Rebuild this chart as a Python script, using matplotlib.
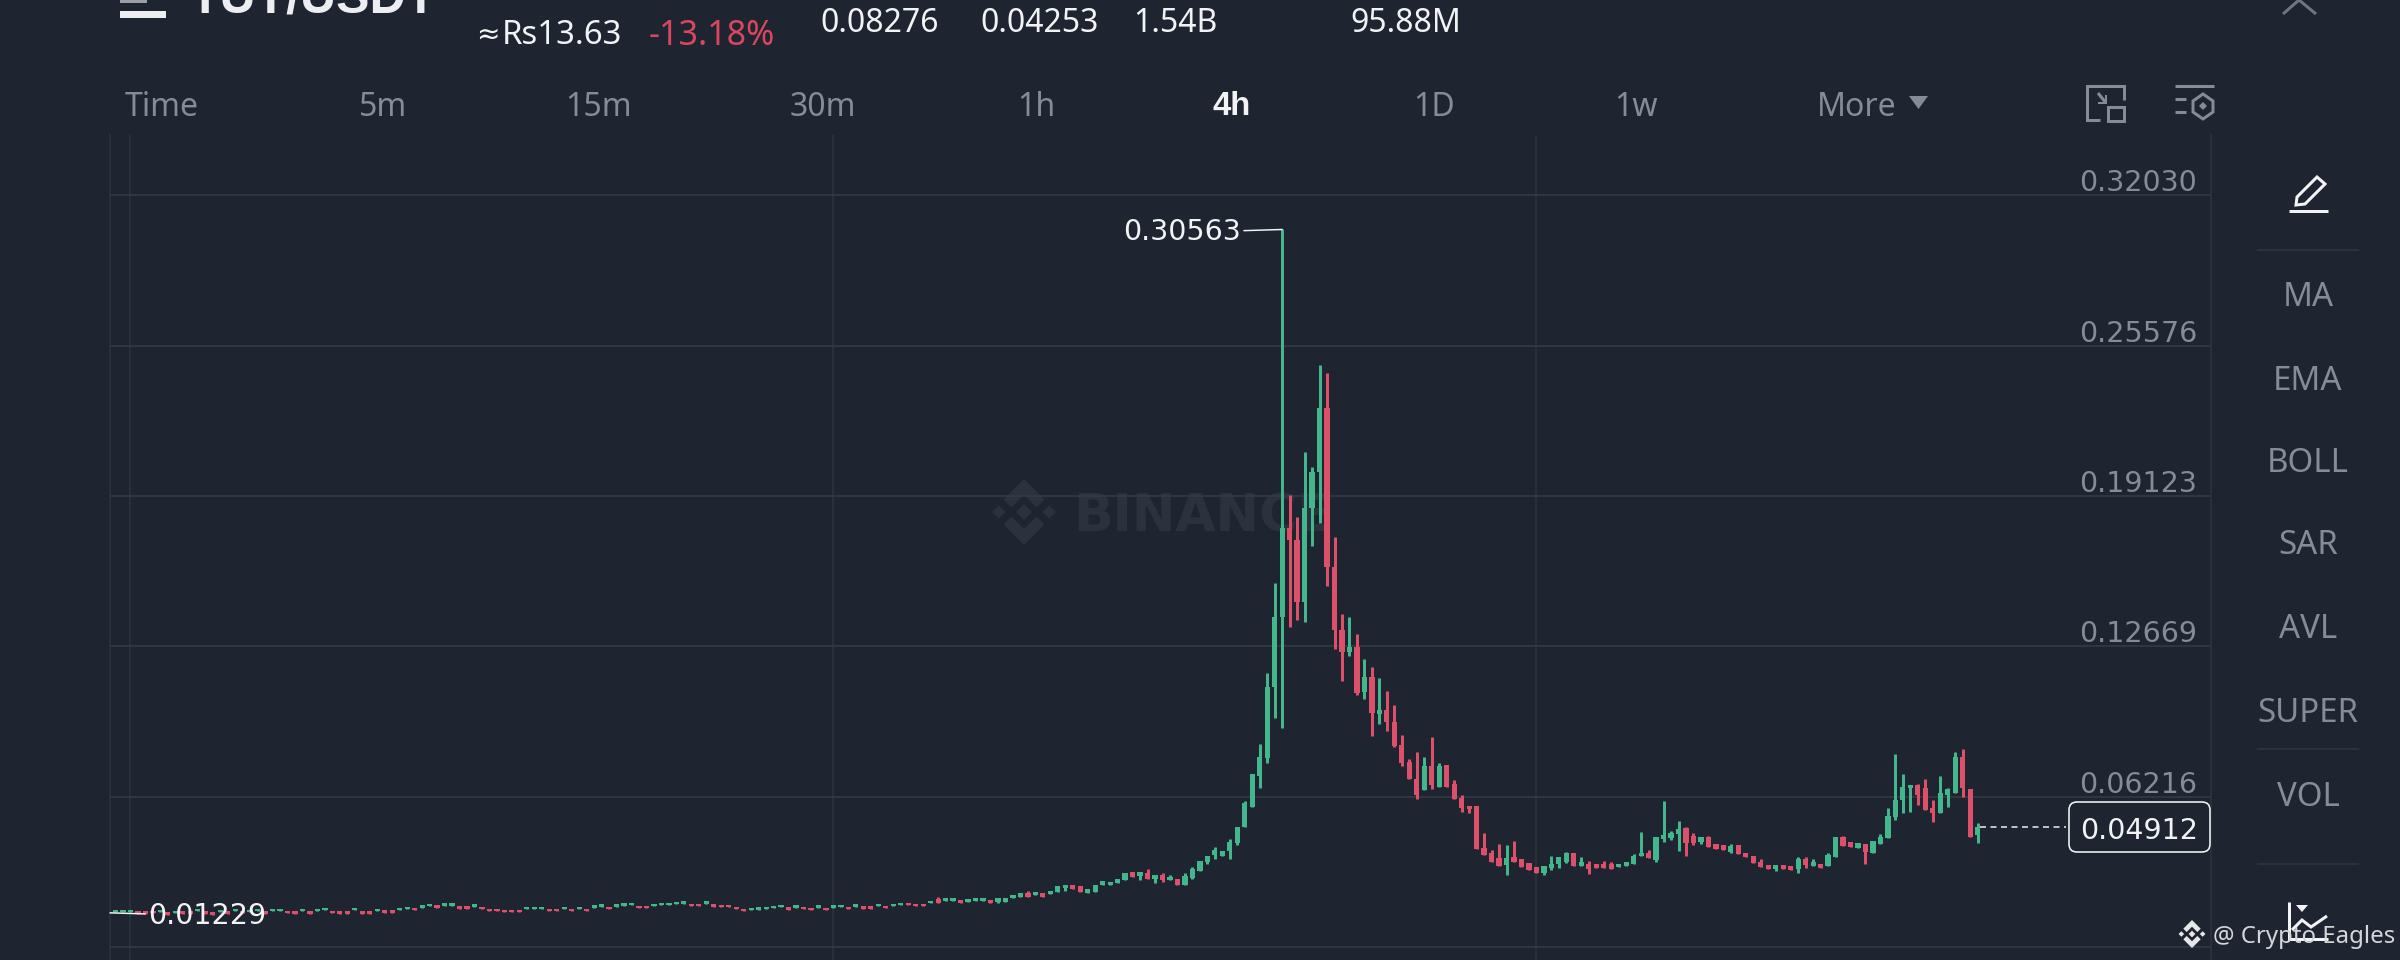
import matplotlib
matplotlib.use("Agg")
import matplotlib.pyplot as plt
from matplotlib.patches import FancyBboxPatch, Polygon, Rectangle

plt.rcParams["font.family"] = ["Noto Sans", "DejaVu Sans"]

# candle data, 4h bars
opens = [
    .01257, .01271, .01271, .01300, .01286, .01314, .01257, .01257, .01214, .01300,
    .01286, .01300, .01286, .01257, .01271, .01286, .01300, .01314, .01257, .01300,
    .01300, .01314, .01314, .01314, .01300, .01286, .01300, .01314, .01329, .01314,
    .01300, .01300, .01329, .01300, .01300, .01314, .01343, .01329, .01343, .01386,
    .01443, .01457, .01515, .01557, .01543, .01543, .01514, .01514, .01500, .01486,
    .01400, .01400, .01371, .01371, .01357, .01372, .01386, .01400, .01414, .01400,
    .01400, .01400, .01386, .01414, .01457, .01500, .01486, .01500, .01543, .01557,
    .01543, .01529, .01529, .01572, .01572, .01615, .01616, .01601, .01601, .01616,
    .01587, .01558, .01558, .01487, .01401, .01344, .01358, .01387, .01430, .01458,
    .01458, .01444, .01472, .01430, .01444, .01444, .01444, .01458, .01472, .01487,
    .01501, .01501, .01501, .01530, .01501, .01558, .01644, .01601, .01616, .01630,
    .01809, .01737, .01751, .01766, .01709, .01737, .01751, .01766, .01694, .01694,
    .01852, .01923, .02066, .01980, .02066, .02052, .02123, .02309, .02409, .02366,
    .02095, .02123, .02409, .02409, .02495, .02624, .02967, .02824, .02924, .02700,
    .02843, .02657, .02686, .02429, .02715, .03044, .03429, .03716, .03658, .03902,
    .04216, .04902, .05760, .07105, .07863, .10908, .13928, .17748, .17233, .14572,
    .18607, .20152, .22900, .16074, .13368, .12439, .12653, .10723, .11337, .09750,
    .09936, .09435, .08435, .07720, .06962, .06504, .07534, .06647, .07562, .06761,
    .06147, .05832, .05832, .04002, .03787, .03572, .03287, .03615, .03530, .03358,
    .03215, .02958, .03142, .03328, .03428, .03815, .03257, .03328, .03314, .03328,
    .03314, .03185, .03228, .03328, .03672, .03786, .03500, .04387, .04429, .04615,
    .04858, .04530, .04287, .04501, .04172, .04129, .03857, .04129, .03815, .03672,
    .03428, .03285, .03114, .03271, .03243, .03100, .03529, .03257, .03328, .03243,
    .03643, .04473, .04272, .04001, .04186, .03815, .04186, .04429, .05359, .06074,
    .06574, .06703, .06574, .05716, .05531, .06288, .06389, .07904, .06532, .04573,
]
closes = [
    .01357, .01371, .01371, .01200, .01186, .01214, .01357, .01157, .01314, .01200,
    .01186, .01400, .01186, .01157, .01371, .01186, .01400, .01214, .01357, .01400,
    .01200, .01414, .01414, .01214, .01200, .01386, .01200, .01414, .01429, .01214,
    .01200, .01200, .01429, .01200, .01200, .01414, .01243, .01229, .01443, .01486,
    .01343, .01557, .01615, .01457, .01643, .01643, .01414, .01414, .01600, .01386,
    .01300, .01300, .01271, .01271, .01257, .01472, .01486, .01500, .01314, .01300,
    .01500, .01300, .01486, .01314, .01557, .01600, .01386, .01600, .01643, .01657,
    .01443, .01429, .01629, .01672, .01672, .01715, .01716, .01501, .01501, .01716,
    .01487, .01458, .01458, .01387, .01301, .01444, .01458, .01487, .01530, .01558,
    .01358, .01544, .01372, .01330, .01544, .01344, .01544, .01558, .01372, .01587,
    .01401, .01401, .01601, .01430, .01601, .01658, .01544, .01501, .01516, .01730,
    .01666, .01852, .01866, .01637, .01823, .01852, .01866, .01637, .01866, .01866,
    .01995, .02066, .01894, .02123, .01923, .02166, .02366, .02438, .02266, .02123,
    .02266, .02424, .02581, .02552, .02667, .02953, .02752, .02967, .02681, .02843,
    .02643, .02786, .02429, .02815, .03115, .03473, .03658, .03930, .03902, .04288,
    .04931, .05932, .07190, .07905, .10908, .13940, .17748, .17233, .14572, .18607,
    .20152, .22900, .16074, .13370, .12439, .12653, .10651, .11337, .09793, .09936,
    .09435, .08392, .07648, .06962, .06290, .07534, .06718, .07534, .06647, .06104,
    .05746, .05675, .03959, .03716, .03429, .03244, .03572, .03401, .03215, .03072,
    .02958, .03244, .03328, .03614, .03815, .03243, .03428, .03100, .03157, .03142,
    .03114, .03328, .03428, .03672, .03786, .03572, .04501, .04573, .04673, .04816,
    .04215, .04244, .04473, .04043, .03986, .03929, .04115, .03757, .03614, .03386,
    .03214, .03100, .03285, .03114, .03057, .03529, .03285, .03414, .03142, .03715,
    .04473, .04101, .04043, .04244, .03857, .04329, .04501, .05388, .06074, .06617,
    .06718, .06288, .05645, .05502, .06360, .06532, .07933, .06574, .04501, .04912,
]
# wicks, only the candles where one is visible
upper_wicks = {
    110: .01894, 122: .02152, 138: .03124, 140: .02929, 141: .02858, 143: .02929, 144: .03186,
    147: .04073, 149: .04416, 151: .06032, 153: .08463, 154: .11509, 155: .15370, 156: .30563,
    157: .19165, 158: .18221, 159: .21011, 160: .20367, 161: .24746, 162: .24402, 163: .17362,
    164: .14040, 165: .13940, 166: .13182, 167: .12110, 168: .11795, 169: .11294, 170: .10751,
    171: .10150, 172: .08863, 173: .07834, 174: .08120, 175: .07934, 176: .08792, 177: .07677,
    179: .06933, 180: .06290, 183: .04674, 184: .03930, 185: .04173, 186: .04145, 187: .04317,
    192: .03672, 194: .03857, 196: .03614, 197: .03471, 199: .03471, 200: .03400, 203: .03757,
    204: .04687, 205: .03929, 207: .06045, 208: .04759, 209: .05173, 210: .04930, 211: .04644,
    213: .04530, 216: .04186, 220: .03529, 225: .03614, 226: .03643, 227: .03529, 229: .03815,
    231: .04530, 236: .04615, 237: .05745, 238: .08047, 239: .07175, 241: .06760, 242: .06989,
    243: .06074, 244: .07118, 245: .06603, 246: .08119, 247: .08262, 249: .05073,
}
lower_wicks = {
    118: .01666, 127: .02166, 137: .02652, 139: .02500, 140: .02557, 144: .02672, 146: .03330,
    147: .03544, 149: .03558, 150: .04145, 153: .06575, 154: .07648, 155: .09607, 156: .09163,
    157: .13499, 158: .13799, 159: .13713, 160: .16976, 161: .17963, 162: .15259, 163: .12554,
    164: .11180, 165: .12253, 166: .10580, 167: .10394, 168: .08835, 169: .09335, 170: .09035,
    171: .08363, 172: .07534, 174: .06118, 176: .06533, 180: .05546, 181: .05503, 186: .02858,
    191: .02872, 192: .03071, 193: .03142, 194: .03357, 197: .02885, 206: .03428, 207: .04287,
    208: .04358, 209: .03900, 210: .03686, 211: .04143, 212: .04186, 216: .03786, 222: .03014,
    225: .02957, 226: .03171, 234: .03328, 238: .05216, 239: .05502, 240: .05573, 241: .05859,
    243: .05116, 245: .05759, 247: .06188, 249: .04244,
}
price_ticks = [0.32030, 0.25576, 0.19123, 0.12669, 0.06216, -0.00238]
price_labels = ["0.32030", "0.25576", "0.19123", "0.12669", "0.06216"]
time_ticks = [2, 96, 190]
max_price, min_price, last_price = 0.30563, 0.01229, 0.04912
max_idx, min_idx = 156, 0

intervals = ["Time", "5m", "15m", "30m", "1h", "4h", "1D", "1w", "More"]
interval_x = [162, 383, 598, 823, 1036, 1232, 1434, 1636, 1857]
indicators = ["MA", "EMA", "BOLL", "SAR", "AVL", "SUPER", "VOL"]
indicator_y = [294, 377, 459, 542, 626, 709, 793]

BG = "#1f2530"
GREEN = "#44b68c"
RED = "#dc5069"
GRAY = "#858c97"
GRID = "#343b45"
WHITE = "#f2f3f5"
NUM_PX = 28.5

W, H = 2400, 960
fig = plt.figure(figsize=(24, 9.6), dpi=100, facecolor=BG)

# chart area: 110..2211 px wide, 135..960 px tall
ax = fig.add_axes([110 / W, 0, (2211 - 110) / W, (960 - 135) / H], facecolor="none", zorder=2)
under = fig.add_axes([0, 0, 1, 1], zorder=1, facecolor=BG)
ui = fig.add_axes([0, 0, 1, 1], zorder=3, facecolor="none")
for a in (under, ui):
    a.set_xlim(0, W)
    a.set_ylim(H, 0)
    a.axis("off")


def label(x, y, s, px, color=GRAY, ha="center", weight="normal", family=None):
    ui.text(x, y, s, fontsize=px * 0.72, color=color, ha=ha, va="center_baseline",
            fontweight=weight, family=family or ["Noto Sans", "DejaVu Sans"])


def line(pts, color=GRAY, lw=3, target=None):
    xs, ys = zip(*pts)
    (target or ui).plot(xs, ys, color=color, lw=lw * 0.72, solid_capstyle="butt", solid_joinstyle="miter")


def binance_logo(target, cx, cy, r, color):
    # centre and side diamonds plus top and bottom chevrons
    for dx, dy, s in [(0, 0, 0.24), (-0.76, 0, 0.2), (0.76, 0, 0.2)]:
        x0, y0, h = cx + dx * r, cy + dy * r, s * r
        target.add_patch(Polygon([(x0 - h, y0), (x0, y0 - h), (x0 + h, y0), (x0, y0 + h)], fc=color, ec="none"))
    for sgn in (-1, 1):
        target.add_patch(Polygon([
            (cx, cy + sgn * r), (cx + 0.62 * r, cy + sgn * 0.38 * r), (cx + 0.38 * r, cy + sgn * 0.14 * r),
            (cx, cy + sgn * 0.52 * r), (cx - 0.38 * r, cy + sgn * 0.14 * r), (cx - 0.62 * r, cy + sgn * 0.38 * r),
        ], fc=color, ec="none"))


# watermark sits under the candles
binance_logo(under, 1024, 512, 33, "#2b323d")
under.text(1073, 532, "BINANCE", fontsize=52 * 0.72, color="#2b323d", fontweight="bold", va="baseline", ha="left",
           family=["DejaVu Sans"])

xs = list(range(len(opens)))
highs = [upper_wicks.get(i, max(opens[i], closes[i])) for i in xs]
lows = [lower_wicks.get(i, min(opens[i], closes[i])) for i in xs]
colors = [GREEN if closes[i] >= opens[i] else RED for i in xs]
ax.vlines(xs, lows, highs, colors=colors, lw=3 * 0.72, zorder=3)
ax.bar(xs, [abs(closes[i] - opens[i]) for i in xs], bottom=[min(opens[i], closes[i]) for i in xs],
       width=0.7, color=colors, lw=0, zorder=4)

ax.set_xlim(-0.735, 280.2)
ax.set_ylim(-0.00796, 0.34619)
ax.set_xticks(time_ticks)
ax.set_yticks(price_ticks)
ax.tick_params(length=0, labelbottom=False, labelleft=False)
ax.grid(axis="y", color=GRID, lw=1.6 * 0.72)
ax.grid(axis="x", color="#2c333d", lw=1.6 * 0.72)
ax.set_axisbelow(True)
for side in ("top", "bottom"):
    ax.spines[side].set_visible(False)
for side in ("left", "right"):
    ax.spines[side].set_color("#2c333d")
    ax.spines[side].set_linewidth(1.6 * 0.72)

# price scale, text sits just above each grid line
for tick, text in zip(price_ticks, price_labels):
    ax.annotate(text, xy=(1, tick), xycoords=("axes fraction", "data"), xytext=(-14 * 0.72, 15 * 0.72),
                textcoords="offset points", ha="right", va="center_baseline", color=GRAY, fontsize=NUM_PX * 0.72,
                family=["DejaVu Sans"])

# high / low markers
ax.annotate(f"{max_price:.5f}", xy=(max_idx, max_price), xytext=(-41 * 0.72, 0), textcoords="offset points",
            ha="right", va="center_baseline", color=WHITE, fontsize=NUM_PX * 0.72, family=["DejaVu Sans"],
            arrowprops=dict(arrowstyle="-", color=WHITE, lw=1.5 * 0.72, shrinkA=0, shrinkB=0))
ax.annotate(f"{min_price:.5f}", xy=(-0.735, min_price), xytext=(38 * 0.72, 0), textcoords="offset points",
            ha="left", va="center_baseline", color=WHITE, fontsize=NUM_PX * 0.72, family=["DejaVu Sans"], zorder=6,
            arrowprops=dict(arrowstyle="-", color=WHITE, lw=1.5 * 0.72, shrinkA=0, shrinkB=0))

# last price line and box
ax.plot([len(opens) - 1 + 0.3, (2066 - 115) / 7.48], [last_price, last_price], color=WHITE, lw=1.5 * 0.72,
        ls=(0, (4, 3)), zorder=5)
ui.add_patch(FancyBboxPatch((2077, 810), 125, 34, boxstyle="round,pad=8", fc=BG, ec=WHITE, lw=1.6 * 0.72))
label(2139, 828, f"{last_price:.5f}", NUM_PX, WHITE, family=["DejaVu Sans"])

# header, cut off by the top of the picture
ui.add_patch(Rectangle((120, 11), 46, 7, fc="#eceef1", ec="none"))
ui.add_patch(Rectangle((120, 0), 27, 3, fc="#9a9ea6", ec="none"))
ui.text(190, 13, "TUT/USDT", fontsize=50 * 0.72, color="#eceef1", ha="left", va="baseline",
        fontweight="bold", family=["Liberation Sans"])
label(476, 32, "≈", 28, WHITE, ha="left")
label(502, 32, "Rs13.63", 33, WHITE, ha="left")
label(649, 32, "-13.18%", 34, "#d9475f", ha="left")
label(820, 20, "0.08276", 32, WHITE, ha="left")
label(980, 20, "0.04253", 32, WHITE, ha="left")
label(1133, 20, "1.54B", 32, WHITE, ha="left")
label(1350, 20, "95.88M", 32, WHITE, ha="left")
line([(2283, 14), (2299, 0), (2316, 14)], "#6f7682", 3)

# interval row
for x, text in zip(interval_x, intervals):
    if text == "4h":
        label(x, 103, text, 33, WHITE, weight="bold", family=["Liberation Sans"])
    else:
        label(x, 103, text, 32, GRAY)
ui.add_patch(Polygon([(1909, 96), (1928, 96), (1918.5, 109)], fc=GRAY, ec="none"))

# layout and settings icons
line([(2124, 100), (2124, 86), (2087, 86), (2087, 120), (2100, 120)], GRAY, 3)
ui.add_patch(Rectangle((2108, 107), 16, 14, fc="none", ec=GRAY, lw=3 * 0.72))
line([(2098, 93), (2106, 103)], GRAY, 3)
line([(2098, 103), (2106, 103), (2106, 95)], GRAY, 2)
line([(2175, 86), (2214, 86)], GRAY, 3)
line([(2175, 99), (2186, 99)], GRAY, 3)
line([(2175, 112), (2186, 112)], GRAY, 3)
ui.add_patch(Polygon([(2203, 94), (2213, 101), (2213, 112), (2203, 119), (2193, 112), (2193, 101)],
                     fc="none", ec=GRAY, lw=3 * 0.72))
ui.add_patch(Polygon([(2203, 102), (2207, 106), (2203, 110), (2199, 106)], fc=GRAY, ec="none"))

# right column
ui.add_patch(Polygon([(2297, 197), (2317, 177), (2325, 184), (2305, 204), (2296, 205)],
                     fc="none", ec=WHITE, lw=3 * 0.72))
line([(2289, 211), (2328, 211)], WHITE, 3)
for y, text in zip(indicator_y, indicators):
    label(2308, y, text, 33, GRAY)
for y in (250, 749, 864):
    line([(2257, y), (2359, y)], "#2f3640", 1.6)
line([(2289, 902), (2289, 939), (2328, 939)], WHITE, 3)
line([(2292, 930), (2302, 920), (2311, 927), (2327, 916)], WHITE, 3)
ui.add_patch(Polygon([(2296, 905), (2308, 905), (2302, 912)], fc=WHITE, ec="none"))

# source watermark, drawn over everything
binance_logo(ui, 2192, 934, 14, "#e4e6e9")
label(2213, 934, "@ Crypto Eagles", 24, "#d4d6da", ha="left")

fig.savefig("out.png", dpi=100, facecolor=BG)
